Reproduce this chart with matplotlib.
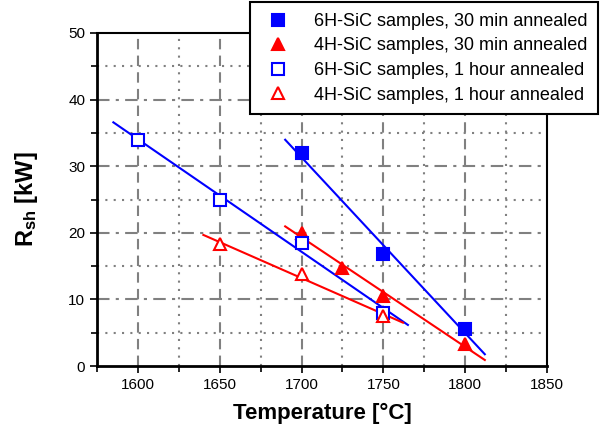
import numpy as np
import matplotlib
matplotlib.use("Agg")
from matplotlib import pyplot as plt

plt.rcParams['font.family'] = ['Liberation Sans', 'DejaVu Sans']
plt.rcParams['mathtext.fontset'] = 'custom'
plt.rcParams['mathtext.rm'] = 'Liberation Sans'
plt.rcParams['mathtext.bf'] = 'Liberation Sans:bold'

# data
t_6h_30 = [1700, 1750, 1800]
r_6h_30 = [32.0, 16.8, 5.6]
t_4h_30 = [1700, 1725, 1750, 1800]
r_4h_30 = [20.0, 14.7, 10.5, 3.3]
t_6h_1h = [1600, 1650, 1700, 1750]
r_6h_1h = [34.0, 25.0, 18.5, 8.0]
t_4h_1h = [1650, 1700, 1750]
r_4h_1h = [18.3, 13.8, 7.5]

# extent of each fit line
fit_6h_30 = [1690, 1812]
fit_4h_30 = [1690, 1812]
fit_6h_1h = [1585, 1765]
fit_4h_1h = [1640, 1762]

labels = ["6H-SiC samples, 30 min annealed",
          "4H-SiC samples, 30 min annealed",
          "6H-SiC samples, 1 hour annealed",
          "4H-SiC samples, 1 hour annealed"]

fig = plt.figure(figsize=(6.02, 4.37), dpi=100)
ax = fig.add_axes([97/602, 71/437, 450/602, 333/437])

# grid: dashed / dash-dot on major, dotted on minor
for x in range(1600, 1850, 50):
    ax.axvline(x, color='#808080', lw=1.5, ls=(0, (5, 3)), zorder=0)
for x in range(1625, 1850, 50):
    ax.axvline(x, color='#808080', lw=1.5, ls=(0, (1, 3)), zorder=0)
for y in range(10, 50, 10):
    ax.axhline(y, color='#808080', lw=1.5, ls=(0, (6, 3, 1.5, 3)), zorder=0)
for y in range(5, 50, 10):
    ax.axhline(y, color='#808080', lw=1.5, ls=(0, (1, 3)), zorder=0)

series = [
    (t_6h_30, r_6h_30, fit_6h_30, 'blue', 's', True),
    (t_4h_30, r_4h_30, fit_4h_30, 'red', '^', True),
    (t_6h_1h, r_6h_1h, fit_6h_1h, 'blue', 's', False),
    (t_4h_1h, r_4h_1h, fit_4h_1h, 'red', '^', False),
]
for (t, r, ext, c, m, filled), lab in zip(series, labels):
    k, b = np.polyfit(t, r, 1)
    xs = np.array(ext)
    ax.plot(xs, k * xs + b, color=c, lw=1.5, zorder=2)
    ax.plot(t, r, ls='none', marker=m, ms=9, mec=c, mew=1.5,
            mfc=c if filled else 'white', label=lab, zorder=3)

ax.set_xlim(1575, 1850)
ax.set_ylim(0, 50)
ax.set_xticks(range(1600, 1851, 50))
ax.set_xticks(range(1575, 1851, 25), minor=True)
ax.set_yticks(range(0, 51, 10))
ax.set_yticks(range(5, 50, 10), minor=True)
ax.tick_params(which='both', direction='out', labelsize=11)
ax.tick_params(which='major', length=5, width=1.2)
ax.tick_params(which='minor', length=4, width=1.2)
ax.tick_params(top=False, right=False)
for s in ax.spines.values():
    s.set_linewidth(1.5)
ax.spines['left'].set_linewidth(2)
ax.spines['bottom'].set_linewidth(2)

ax.set_xlabel("Temperature [°C]", fontsize=16, fontweight='bold', labelpad=8)
ax.set_ylabel(r"$\mathbf{R_{sh}}$ [kW]", fontsize=17, fontweight='bold', labelpad=20)

leg = fig.legend(loc='upper right', bbox_to_anchor=(598/602, 1 - 2/437),
                 fontsize=13, frameon=True, fancybox=False, edgecolor='black',
                 framealpha=1, handletextpad=1.1, labelspacing=0.42,
                 borderpad=0.6, handlelength=1.8, borderaxespad=0)
leg.get_frame().set_linewidth(1.5)

fig.savefig("out.png", dpi=100)
